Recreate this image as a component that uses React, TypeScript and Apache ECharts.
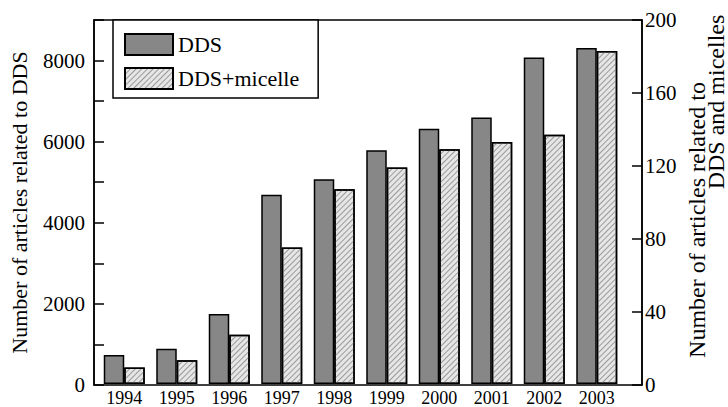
import React, { useEffect, useRef } from "react";
import * as echarts from "echarts";

const years = ["1994", "1995", "1996", "1997", "1998", "1999", "2000", "2001", "2002", "2003"];
const ddsArticles = [720, 870, 1730, 4680, 5060, 5780, 6310, 6590, 8070, 8310];
const micelleArticles = [9, 13, 27, 75, 107, 119, 129, 133, 137, 183];
const leftTicks = { min: 0, max: 9000, interval: 1000, labelEvery: 2000 };
const rightTicks = { min: 0, max: 200, interval: 40 };
const seriesNames = ["DDS", "DDS+micelle"];
const leftTitle = "Number of articles related to DDS";
const rightTitleLines = ["Number of articles related to", "DDS and micelles"];

const FONT = "Liberation Serif";

export default function App() {
  const ref = useRef<HTMLDivElement>(null);
  useEffect(() => {
    if (!ref.current) return;
    const chart = echarts.init(ref.current, undefined, { renderer: "svg" });
    const option: any = {
      animation: false,
      backgroundColor: "#fff",
      textStyle: { fontFamily: FONT },
      grid: [
        { left: 91, right: 86, top: 20, bottom: 22, show: true, borderColor: "#000", borderWidth: 1.5, backgroundColor: "transparent" },
        { left: 98, right: 105, top: 20, bottom: 22 },
      ],
      legend: {
        data: seriesNames,
        orient: "vertical",
        left: 113,
        top: 20,
        icon: "rect",
        itemWidth: 48,
        itemHeight: 21,
        itemGap: 11,
        padding: [13, 19, 8, 11],
        borderColor: "#000",
        borderWidth: 1.5,
        backgroundColor: "#fff",
        textStyle: { fontFamily: FONT, fontSize: 22, color: "#000" },
      },
      xAxis: [
        { type: "value", gridIndex: 0, min: 0, max: 1, show: false },
        {
          type: "category",
          gridIndex: 1,
          data: years,
          axisLine: { show: false },
          axisTick: { show: false },
          axisLabel: { fontFamily: FONT, fontSize: 18, color: "#000", margin: 5 },
        },
      ],
      yAxis: [
        {
          type: "value",
          gridIndex: 0,
          position: "left",
          min: leftTicks.min,
          max: leftTicks.max,
          interval: leftTicks.interval,
          splitLine: { show: false },
          axisLine: { show: true, lineStyle: { color: "#000", width: 1.5 } },
          axisTick: { show: true, inside: true, length: 10, lineStyle: { color: "#000", width: 1.5 } },
          axisLabel: {
            fontFamily: FONT,
            fontSize: 21,
            color: "#000",
            margin: 9,
            formatter: (v: number) => (v % leftTicks.labelEvery === 0 && v < leftTicks.max ? String(v) : ""),
          },
          name: leftTitle,
          nameLocation: "middle",
          nameRotate: 90,
          nameGap: 64,
          nameTextStyle: { fontFamily: FONT, fontSize: 22, color: "#000" },
        },
        {
          type: "value",
          gridIndex: 0,
          position: "right",
          min: rightTicks.min,
          max: rightTicks.max,
          interval: rightTicks.interval,
          splitLine: { show: false },
          axisLine: { show: true, lineStyle: { color: "#000", width: 1.5 } },
          axisTick: { show: true, inside: true, length: 10, lineStyle: { color: "#000", width: 1.5 } },
          axisLabel: { fontFamily: FONT, fontSize: 21, color: "#000", margin: 3 },
        },
        { type: "value", gridIndex: 1, min: leftTicks.min, max: leftTicks.max, show: false },
        { type: "value", gridIndex: 1, min: rightTicks.min, max: rightTicks.max, show: false },
      ],
      series: [
        {
          name: seriesNames[0],
          type: "bar",
          xAxisIndex: 1,
          yAxisIndex: 2,
          data: ddsArticles,
          barWidth: 20.5,
          barGap: "0%",
          itemStyle: { color: "#878787", borderColor: "#000", borderWidth: 1.5 },
        },
        {
          name: seriesNames[1],
          type: "bar",
          xAxisIndex: 1,
          yAxisIndex: 3,
          data: micelleArticles,
          barWidth: 20.5,
          barGap: "0%",
          itemStyle: {
            color: "#e6e6e6",
            borderColor: "#000",
            borderWidth: 1.5,
            decal: {
              symbol: "rect",
              symbolSize: 1,
              color: "#9a9a9a",
              dashArrayX: [1, 0],
              dashArrayY: [1, 3],
              rotation: -Math.PI / 4,
            },
          },
        },
      ],
      graphic: [
        {
          type: "text",
          x: 697,
          y: 220,
          rotation: Math.PI / 2,
          style: { text: rightTitleLines[0], fontFamily: FONT, fontSize: 24, fill: "#000", align: "center", verticalAlign: "middle" },
        },
        {
          type: "text",
          x: 716,
          y: 102,
          rotation: Math.PI / 2,
          style: { text: rightTitleLines[1], fontFamily: FONT, fontSize: 24, fill: "#000", align: "center", verticalAlign: "middle" },
        },
      ],
    };
    chart.setOption(option);
    return () => chart.dispose();
  }, []);
  return <div ref={ref} style={{ position: "fixed", left: 0, top: 0, width: 728, height: 407 }} />;
}
